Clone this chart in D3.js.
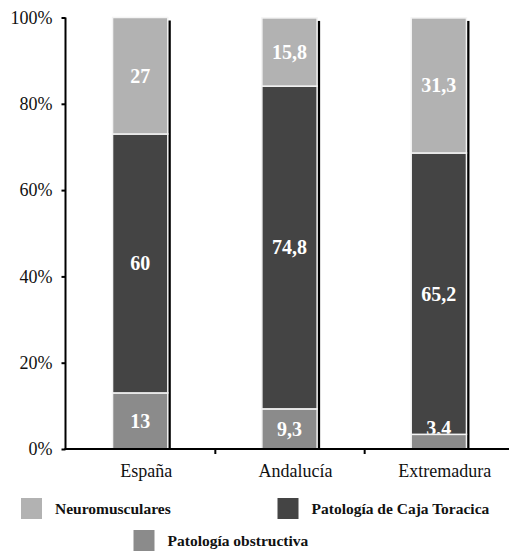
<!DOCTYPE html>
<html>
<head>
<meta charset="utf-8">
<script src="https://cdn.jsdelivr.net/npm/d3@7"></script>
<style>
  html, body { margin: 0; padding: 0; background: #fff; }
  svg { display: block; font-family: "Liberation Serif", "Times New Roman", serif; }
</style>
</head>
<body>
<svg id="chart" width="509" height="552"></svg>
<script>
// Regions and the share of each pathology group (%)
const regions = ["España", "Andalucía", "Extremadura"];
const seriesNames = ["Patología obstructiva", "Patología de Caja Toracica", "Neuromusculares"];
const obstructiva = [13, 9.3, 3.4];
const cajaToracica = [60, 74.8, 65.2];
const neuromusculares = [27, 15.8, 31.3];
const yTicks = [0, 20, 40, 60, 80, 100];
const seriesColors = ["#8b8b8b", "#444444", "#b2b2b2"];

const rows = regions.map((r, i) => ({
  region: r,
  "Patología obstructiva": obstructiva[i],
  "Patología de Caja Toracica": cajaToracica[i],
  "Neuromusculares": neuromusculares[i]
}));

const svg = d3.select("#chart");
const plotLeft = 65.5, plotRight = 513.5, plotTop = 17.5, plotBottom = 449;

const x = d3.scaleBand().domain(regions).range([plotLeft, plotRight])
  .paddingInner(0.63).paddingOuter(0.315);
const y = d3.scaleLinear().domain([0, 100]).range([plotBottom, plotTop]);
const color = d3.scaleOrdinal().domain(seriesNames).range(seriesColors);
const fmt = v => String(v).replace(".", ",");

const stacked = d3.stack().keys(seriesNames)(rows);

// shadows on the right of every column
svg.append("g").selectAll("rect")
  .data(rows)
  .join("rect")
  .attr("x", d => x(d.region) + 3)
  .attr("y", d => y(d3.sum(seriesNames, k => d[k])) + 3)
  .attr("width", x.bandwidth())
  .attr("height", d => plotBottom - y(d3.sum(seriesNames, k => d[k])) - 3)
  .attr("fill", "#000");

// stacked segments
const segG = svg.append("g");
stacked.forEach(s => {
  segG.append("g").selectAll("rect")
    .data(s.map(d => ({ key: s.key, d })))
    .join("rect")
    .attr("x", e => x(e.d.data.region))
    .attr("y", e => y(e.d[1]))
    .attr("width", x.bandwidth())
    .attr("height", e => y(e.d[0]) - y(e.d[1]))
    .attr("fill", color(s.key))
    .attr("stroke", "#f4f4f4")
    .attr("stroke-width", 1.5);
});

// value labels
const defs = svg.append("defs");
const labG = svg.append("g")
  .attr("font-weight", "bold").attr("font-size", 20).attr("fill", "#fff")
  .attr("text-anchor", "middle");
stacked.forEach((s, si) => {
  s.forEach((d, ri) => {
    const h = y(d[0]) - y(d[1]);
    const cx = x(d.data.region) + x.bandwidth() / 2;
    const t = labG.append("text")
      .attr("x", cx)
      .text(fmt(d.data[s.key]));
    if (h >= 22) {
      t.attr("y", (y(d[0]) + y(d[1])) / 2).attr("dy", "0.35em");
    } else {
      // small segment: the label sits on its upper edge and is cut there
      const id = "clip-" + si + "-" + ri;
      defs.append("clipPath").attr("id", id).append("rect")
        .attr("x", x(d.data.region)).attr("y", 0)
        .attr("width", x.bandwidth()).attr("height", y(d[1]) - 0.5);
      t.attr("y", y(d[1]) + 0.5).attr("clip-path", `url(#${id})`);
    }
  });
});

// y axis
const yAxis = svg.append("g").attr("transform", `translate(${plotLeft},0)`)
  .call(d3.axisLeft(y).tickValues(yTicks).tickSize(4).tickPadding(9).tickFormat(d => d + "%"));
yAxis.select(".domain").attr("stroke", "#000").attr("stroke-width", 2)
  .attr("d", `M0,${plotTop}V${plotBottom}`);
yAxis.selectAll(".tick line").attr("stroke-width", 2);
yAxis.selectAll(".tick text").attr("font-family", "Liberation Serif, serif")
  .attr("font-size", 18).attr("fill", "#111");

// x axis with ticks at the category boundaries
const xg = svg.append("g");
xg.append("line").attr("x1", plotLeft - 1).attr("x2", 509).attr("y1", plotBottom).attr("y2", plotBottom)
  .attr("stroke", "#000").attr("stroke-width", 2);
xg.selectAll("line.tk").data(regions.slice(1)).join("line").attr("class", "tk")
  .attr("x1", d => x(d) - x.step() * x.paddingInner() / 2 + 0.5)
  .attr("x2", d => x(d) - x.step() * x.paddingInner() / 2 + 0.5)
  .attr("y1", plotBottom).attr("y2", plotBottom + 5)
  .attr("stroke", "#000").attr("stroke-width", 2);
xg.selectAll("text").data(regions).join("text")
  .attr("x", d => x(d) + x.bandwidth() / 2 + 6)
  .attr("y", plotBottom + 28)
  .attr("text-anchor", "middle").attr("font-size", 18).attr("fill", "#111")
  .text(d => d);

// legend
const legendItems = [
  { name: "Neuromusculares", lx: 21, ly: 498 },
  { name: "Patología de Caja Toracica", lx: 277.5, ly: 498 },
  { name: "Patología obstructiva", lx: 133.5, ly: 530 }
];
const lg = svg.append("g");
legendItems.forEach(it => {
  lg.append("rect").attr("x", it.lx).attr("y", it.ly).attr("width", 21).attr("height", 21)
    .attr("fill", color(it.name));
  lg.append("text").attr("x", it.lx + 34).attr("y", it.ly + 10.5).attr("dy", "0.35em")
    .attr("font-size", 15.5).attr("font-weight", "bold").attr("fill", "#111")
    .text(it.name);
});
</script>
</body>
</html>
